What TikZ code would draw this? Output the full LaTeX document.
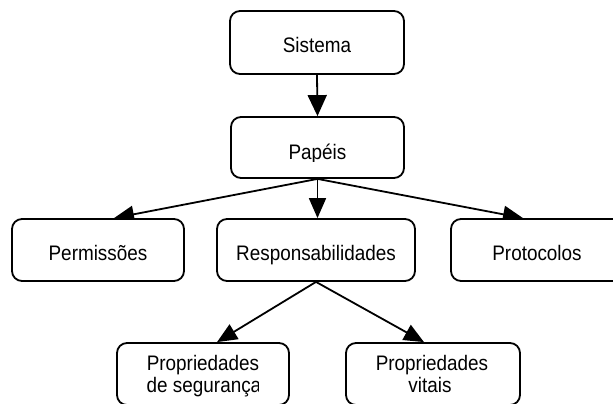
\documentclass[tikz,border=0pt]{standalone}
\usepackage{fontspec}
\setmainfont{Liberation Sans}[FakeStretch=0.9]
\usetikzlibrary{arrows.meta}
\pgfdeclarelayer{bg}
\pgfsetlayers{bg,main}
\newcommand\boxfont{\fontsize{21}{23}\selectfont}
\tikzset{
  box/.style={draw, line width=1.8pt, rounded corners=10pt, fill=white,
    minimum width=172pt, minimum height=62pt, inner sep=0pt,
    text height=20pt, text depth=0pt, font=\boxfont},
  lbl/.style={inner sep=0pt, anchor=base, font=\boxfont},
  flow/.style={line width=1.8pt, -{Triangle[length=20pt,width=17pt]}}
}
\begin{document}
\begin{tikzpicture}[x=1pt,y=-1pt]
  \useasboundingbox (0,0) rectangle (613,404);
  \clip (0,0) rectangle (613,404);

  % top of the hierarchy
  \node[box, minimum width=174pt, minimum height=63pt] (sis) at (317,42.5) {Sistema};
  \node[box, minimum width=173pt, minimum height=61pt] (pap) at (317.5,147.5) {};
  \coordinate (papcut) at (0,161.5);
  \begin{scope}
    \clip (pap.north west) rectangle (pap.east |- papcut);
    \node[lbl] (paptxt) at (317.5,159.3) {Papéis};
  \end{scope}

  % second level
  \node[box] (perm) at (98,250) {Permissões};
  \node[box, minimum width=198pt] (resp) at (316,250) {Responsabilidades};
  \node[box] (prot) at (537,250) {Protocolos};

  % properties
  \node[box] (seg) at (203,374) {};
  \node[lbl] (segtop) at (203,370) {Propriedades};
  \coordinate (segcut) at (258,0);
  \begin{scope}
    \clip (seg.north west) rectangle (segcut |- seg.south);
    \node[lbl] (segbot) at (204,392) {de segurança};
  \end{scope}
  \node[box, minimum width=174pt] (vit) at (433,374) {};
  \node[lbl] (vittop) at (432,370) {Propriedades};
  \node[lbl] (vitbot) at (430,392) {vitais};

  % connectors, drawn beneath the boxes
  \begin{pgfonlayer}{bg}
    \draw[flow, -{Triangle[length=21pt,width=19pt]}] (sis.south) -- (pap.north);
    \draw[flow] (pap.south) -- ([xshift=16pt]perm.north);
    \draw[flow] (pap.south) -- (pap.south |- resp.north);
    \draw[flow] (pap.south) -- ([xshift=-14pt]prot.north);
    \draw[flow] (resp.south) -- ([xshift=14pt]seg.north);
    \draw[flow] (resp.south) -- ([xshift=-9pt]vit.north);
  \end{pgfonlayer}
\end{tikzpicture}
\end{document}
